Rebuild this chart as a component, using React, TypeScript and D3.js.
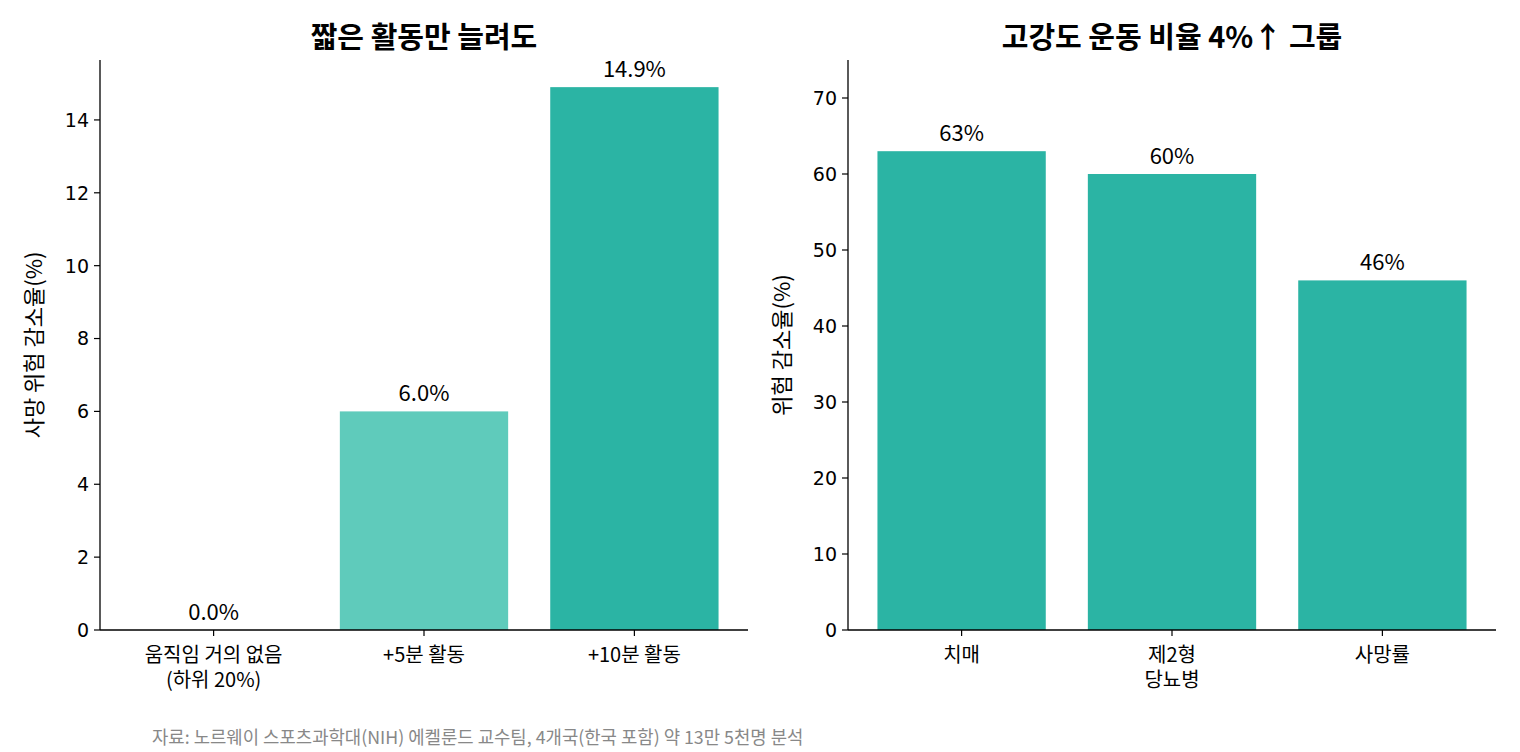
import React from "react";
import * as d3 from "d3";

// left panel
const leftCategories = ["움직임 거의 없음\n(하위 20%)", "+5분 활동", "+10분 활동"];
const leftValues = [0.0, 6.0, 14.9];
const leftColors = ["#2bb4a4", "#5fcbbb", "#2bb4a4"];
const leftTicks = [0, 2, 4, 6, 8, 10, 12, 14];

// right panel
const rightCategories = ["치매", "제2형\n당뇨병", "사망률"];
const rightValues = [63, 60, 46];
const rightTicks = [0, 10, 20, 30, 40, 50, 60, 70];

const W = 1520;
const H = 752;
const KR = "'Noto Sans CJK KR', 'Noto Sans', sans-serif";
const TICK_FONT = "'DejaVu Sans', sans-serif";

interface PanelProps {
  x0: number;
  x1: number;
  title: string;
  yLabel: string;
  categories: string[];
  values: number[];
  colors: string[];
  ticks: number[];
  yMax: number;
  fmt: (v: number) => string;
}

const Panel: React.FC<PanelProps> = ({ x0, x1, title, yLabel, categories, values, colors, ticks, yMax, fmt }) => {
  const top = 60;
  const bottom = 630;
  const x = d3.scaleLinear().domain([-0.54, categories.length - 1 + 0.54]).range([x0, x1]);
  const y = d3.scaleLinear().domain([0, yMax]).range([bottom, top]);
  const bw = x(0.4) - x(-0.4);

  return (
    <g>
      <text x={(x0 + x1) / 2} y={48} textAnchor="middle" fontFamily={KR} fontWeight={700} fontSize={29}>
        {title}
      </text>
      {values.map((v, i) => (
        <rect key={"b" + i} x={x(i) - bw / 2} y={y(v)} width={bw} height={bottom - y(v)} fill={colors[i]} />
      ))}
      {values.map((v, i) => (
        <text key={"v" + i} x={x(i)} y={y(v) - 10} textAnchor="middle" fontFamily={KR} fontSize={22}>
          {fmt(v)}
        </text>
      ))}
      <line x1={x0} x2={x0} y1={top} y2={bottom} stroke="#000" strokeWidth={1.3} />
      <line x1={x0} x2={x1} y1={bottom} y2={bottom} stroke="#000" strokeWidth={1.3} />
      {ticks.map((t) => (
        <g key={"t" + t}>
          <line x1={x0 - 6} x2={x0} y1={y(t)} y2={y(t)} stroke="#000" strokeWidth={1.2} />
          <text x={x0 - 11} y={y(t)} dy="0.36em" textAnchor="end" fontFamily={TICK_FONT} fontSize={19}>
            {t}
          </text>
        </g>
      ))}
      {categories.map((c, i) => (
        <g key={"c" + i}>
          <line x1={x(i)} x2={x(i)} y1={bottom} y2={bottom + 6} stroke="#000" strokeWidth={1.2} />
          <text x={x(i)} y={662} textAnchor="middle" fontFamily={KR} fontSize={20}>
            {c.split("\n").map((line, j) => (
              <tspan key={j} x={x(i)} dy={j === 0 ? 0 : 25}>
                {line}
              </tspan>
            ))}
          </text>
        </g>
      ))}
      <text
        transform={`translate(${x0 - 58},${(top + bottom) / 2}) rotate(-90)`}
        textAnchor="middle"
        fontFamily={KR}
        fontSize={22}
      >
        {yLabel}
      </text>
    </g>
  );
};

export default function App() {
  return (
    <svg width={W} height={H} style={{ display: "block", position: "absolute", left: 0, top: 0, background: "#fff" }}>
      <Panel
        x0={100}
        x1={748}
        title="짧은 활동만 늘려도"
        yLabel="사망 위험 감소율(%)"
        categories={leftCategories}
        values={leftValues}
        colors={leftColors}
        ticks={leftTicks}
        yMax={d3.max(leftValues)! * 1.05}
        fmt={(v) => v.toFixed(1) + "%"}
      />
      <Panel
        x0={848}
        x1={1496}
        title="고강도 운동 비율 4%↑ 그룹"
        yLabel="위험 감소율(%)"
        categories={rightCategories}
        values={rightValues}
        colors={rightValues.map(() => "#2bb4a4")}
        ticks={rightTicks}
        yMax={75}
        fmt={(v) => v + "%"}
      />
      <text x={152} y={744} fontFamily={KR} fontSize={17.8} fill="#888">
        자료: 노르웨이 스포츠과학대(NIH) 에켈룬드 교수팀, 4개국(한국 포함) 약 13만 5천명 분석
      </text>
    </svg>
  );
}
